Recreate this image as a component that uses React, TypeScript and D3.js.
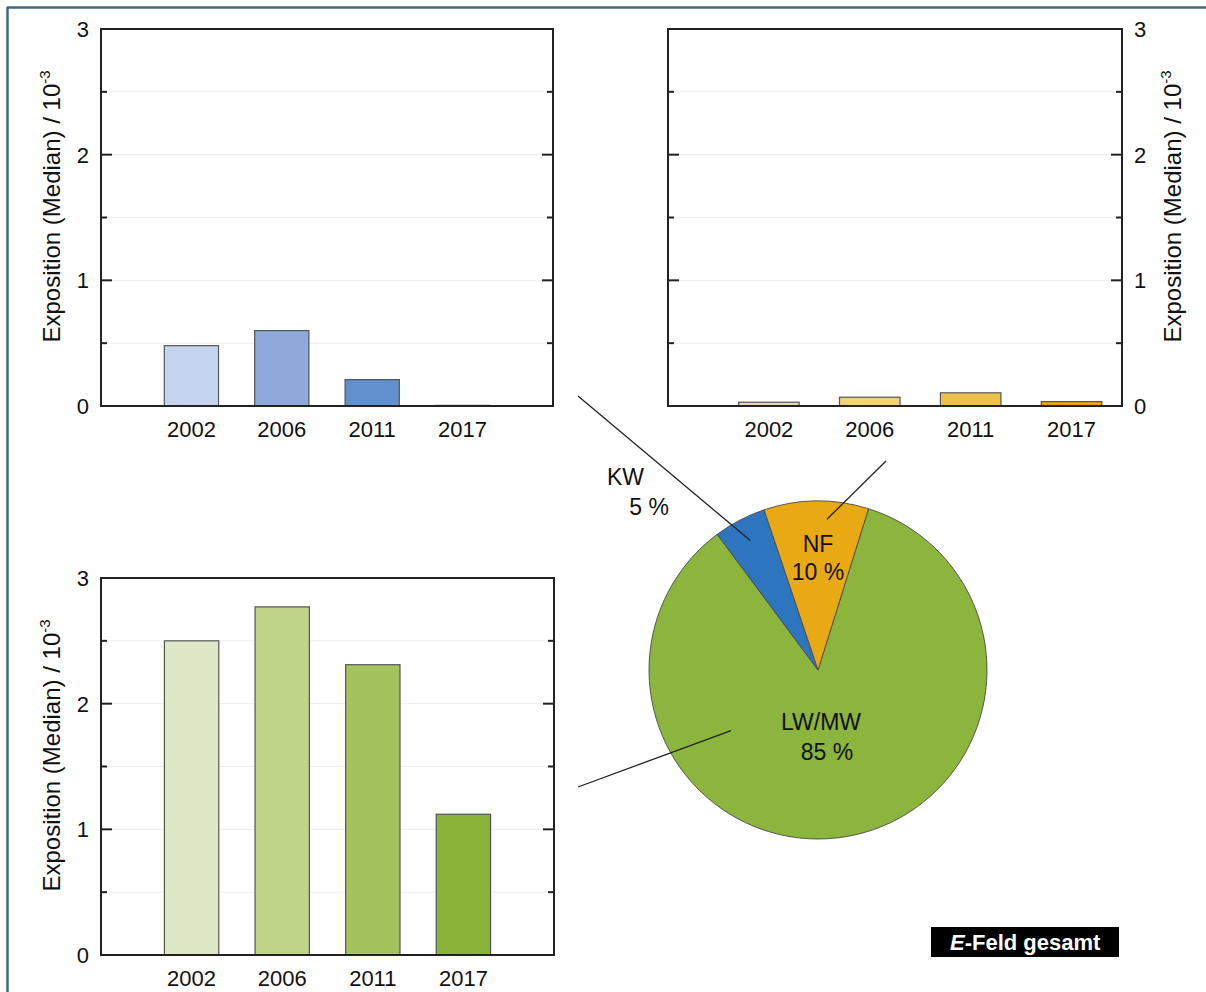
import React from 'react';
import * as d3 from 'd3';

// years shown in every bar panel
const years = ['2002', '2006', '2011', '2017'];

// Median exposition / 10^-3
const kwValues = [0.48, 0.6, 0.21, 0.005];
const nfValues = [0.03, 0.07, 0.105, 0.035];
const lwValues = [2.5, 2.77, 2.31, 1.12];

const kwColors = ['#c5d4ee', '#8eaadb', '#6090cd', '#2f6fb8'];
const nfColors = ['#ead8b6', '#f3d27c', '#eec04e', '#e2a60f'];
const lwColors = ['#dfe8c6', '#bfd389', '#a4c25e', '#8ab33a'];

const yTicks = [0, 1, 2, 3];
const yMinorTicks = [0.5, 1.5, 2.5];

// pie shares (%)
const pieNames = ['LW/MW', 'KW', 'NF'];
const pieValues = [85, 5, 10];
const pieColors = ['#8bb53c', '#2e75c0', '#e8a915'];

const FONT = '"Liberation Sans", Arial, Helvetica, sans-serif';

interface PanelProps {
  left: number;
  top: number;
  width: number;
  height: number;
  xMax: number;
  values: number[];
  colors: string[];
  side: 'left' | 'right';
}

const YLabel: React.FC<{ x: number; y: number }> = ({ x, y }) => (
  <text
    transform={`translate(${x},${y}) rotate(-90)`}
    textAnchor="middle"
    fontSize={24}
    fill="#111"
  >
    Exposition (Median) / 10
    <tspan dy={-10} fontSize={15}>-3</tspan>
  </text>
);

const Panel: React.FC<PanelProps> = ({ left, top, width, height, xMax, values, colors, side }) => {
  const x = d3.scaleLinear().domain([0, xMax]).range([left, left + width]);
  const y = d3.scaleLinear().domain([0, 3]).range([top + height, top]);
  const step = x(1) - x(0);
  const bw = step * 0.6;
  const gridVals = [...yMinorTicks, 1, 2];

  return (
    <g>
      {/* grid */}
      {gridVals.map(v => (
        <line key={'g' + v} x1={left} x2={left + width} y1={y(v)} y2={y(v)} stroke="#ececec" strokeWidth={1} />
      ))}
      {/* bars */}
      {values.map((v, i) => (
        <rect
          key={years[i]}
          x={x(i + 1) - bw / 2}
          y={y(v)}
          width={bw}
          height={Math.max(0.5, y(0) - y(v))}
          fill={colors[i]}
          stroke="#555"
          strokeWidth={1.2}
        />
      ))}
      {/* ticks inward, both sides */}
      {yTicks.map(v => (
        <g key={'t' + v}>
          <line x1={left} x2={left + 11} y1={y(v)} y2={y(v)} stroke="#222" strokeWidth={2} />
          <line x1={left + width} x2={left + width - 11} y1={y(v)} y2={y(v)} stroke="#222" strokeWidth={2} />
        </g>
      ))}
      {yMinorTicks.map(v => (
        <g key={'m' + v}>
          <line x1={left} x2={left + 6} y1={y(v)} y2={y(v)} stroke="#222" strokeWidth={2} />
          <line x1={left + width} x2={left + width - 6} y1={y(v)} y2={y(v)} stroke="#222" strokeWidth={2} />
        </g>
      ))}
      {/* frame */}
      <rect x={left} y={top} width={width} height={height} fill="none" stroke="#222" strokeWidth={2} />
      {/* tick labels */}
      {yTicks.map(v => (
        <text
          key={'l' + v}
          x={side === 'left' ? left - 12 : left + width + 12}
          y={y(v) + 8}
          textAnchor={side === 'left' ? 'end' : 'start'}
          fontSize={22}
          fill="#111"
        >
          {v}
        </text>
      ))}
      {years.map((yr, i) => (
        <text key={'x' + yr} x={x(i + 1)} y={top + height + 31} textAnchor="middle" fontSize={22} fill="#111">
          {yr}
        </text>
      ))}
      {side === 'left' ? (
        <YLabel x={60} y={top + height / 2 - 11} />
      ) : (
        <YLabel x={left + width + 59} y={top + height / 2 - 11} />
      )}
    </g>
  );
};

const App: React.FC = () => {
  const cx = 818;
  const cy = 670;
  const r = 169;
  const start = (17.4 * Math.PI) / 180;

  const pie = d3.pie<number>().sort(null).startAngle(start).endAngle(start + 2 * Math.PI);
  const arcs = pie(pieValues);
  const arc = d3.arc<d3.PieArcDatum<number>>().innerRadius(0).outerRadius(r);

  // point on pie at angle (clockwise from 12 o'clock) and radius
  const pt = (a: number, rad: number): [number, number] => [
    cx + rad * Math.sin(a),
    cy - rad * Math.cos(a),
  ];
  const mid = (d: d3.PieArcDatum<number>) => (d.startAngle + d.endAngle) / 2;

  const kwEnd = pt(mid(arcs[1]), 146);
  const nfEnd = pt(mid(arcs[2]) + 0.07, 151);
  const lwEnd = pt(mid(arcs[0]) + 1.13, 106);

  return (
    <svg
      width={1206}
      height={992}
      style={{ position: 'absolute', left: 0, top: 0, background: '#fff' }}
      fontFamily={FONT}
    >
      <rect x={0} y={0} width={1206} height={992} fill="#fff" />
      {/* frame of the figure */}
      <line x1={7} x2={1206} y1={7.5} y2={7.5} stroke="#3d6a80" strokeWidth={2.5} />
      <line x1={7.5} x2={7.5} y1={7} y2={992} stroke="#3d6a80" strokeWidth={2.5} />

      <Panel left={101} top={29} width={452} height={377} xMax={5} values={kwValues} colors={kwColors} side="left" />
      <Panel left={668} top={29} width={454} height={377} xMax={4.5} values={nfValues} colors={nfColors} side="right" />
      <Panel left={101} top={578} width={453} height={377} xMax={5} values={lwValues} colors={lwColors} side="left" />

      {/* pie */}
      <g transform={`translate(${cx},${cy})`}>
        {arcs.map((d, i) => (
          <path key={pieNames[i]} d={arc(d) || ''} fill={pieColors[i]} stroke="#4a4a4a" strokeWidth={0.9} />
        ))}
      </g>

      {/* leader lines */}
      <line x1={578} y1={396} x2={kwEnd[0]} y2={kwEnd[1]} stroke="#222" strokeWidth={1.3} />
      <line x1={886} y1={461} x2={nfEnd[0]} y2={nfEnd[1]} stroke="#222" strokeWidth={1.3} />
      <line x1={578} y1={787} x2={lwEnd[0]} y2={lwEnd[1]} stroke="#222" strokeWidth={1.3} />

      {/* pie labels */}
      <text x={607} y={485} fontSize={23} fill="#111">{pieNames[1]}</text>
      <text x={669} y={515} fontSize={23} fill="#111" textAnchor="end">{pieValues[1]} %</text>
      <text x={818} y={552} fontSize={23} fill="#111" textAnchor="middle">{pieNames[2]}</text>
      <text x={818} y={580} fontSize={23} fill="#111" textAnchor="middle">{pieValues[2]} %</text>
      <text x={821} y={730} fontSize={23} fill="#111" textAnchor="middle">{pieNames[0]}</text>
      <text x={827} y={760} fontSize={23} fill="#111" textAnchor="middle">{pieValues[0]} %</text>

      {/* title box */}
      <rect x={931} y={927} width={188} height={30} fill="#000" />
      <text x={950} y={950} fontSize={22} fontWeight="bold" fill="#fff">
        <tspan fontStyle="italic">E</tspan>-Feld gesamt
      </text>
    </svg>
  );
};

export default App;
